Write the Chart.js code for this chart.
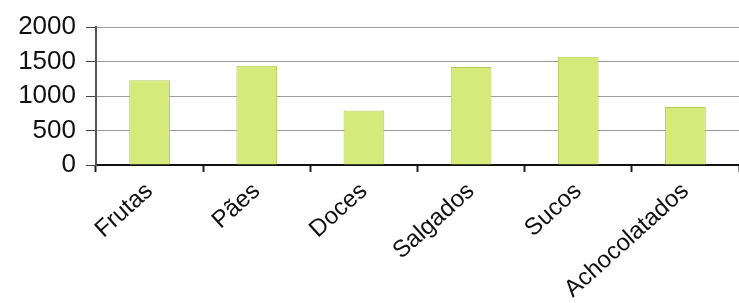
<!DOCTYPE html>
<html>
<head>
<meta charset="utf-8">
<script src="https://cdn.jsdelivr.net/npm/chart.js@4"></script>
<style>
  html, body { margin: 0; padding: 0; background: #fff; }
  #chart { display: block; }
</style>
</head>
<body>
<canvas id="chart" width="739" height="303"></canvas>
<script>
// ---------- DATA ----------
const categories = ['Frutas', 'Pães', 'Doces', 'Salgados', 'Sucos', 'Achocolatados'];
const values = [1230, 1440, 790, 1420, 1570, 840];
const yTicks = [0, 500, 1000, 1500, 2000];

// ---------- CHART ----------
const ctx = document.getElementById('chart').getContext('2d');
new Chart(ctx, {
  type: 'bar',
  data: {
    labels: categories,
    datasets: [{
      data: values,
      backgroundColor: '#d6ea7c',
      borderColor: '#b5c958',
      borderWidth: 1,
      barPercentage: 0.38,
      categoryPercentage: 1
    }]
  },
  options: {
    responsive: false,
    animation: false,
    layout: { padding: { top: 27, right: 0, left: 0, bottom: 0 } },
    plugins: { legend: { display: false }, tooltip: { enabled: false } },
    scales: {
      x: {
        offset: true,
        afterFit: (s) => { s.height = 138; },
        grid: { offset: true, drawOnChartArea: false, tickLength: 7, tickColor: '#222', tickWidth: 2 },
        border: { color: '#111', width: 2 },
        ticks: {
          autoSkip: false,
          minRotation: 42, maxRotation: 42,
          padding: 5,
          color: '#111',
          font: { family: 'Liberation Sans, Arial, sans-serif', size: 24 }
        }
      },
      y: {
        min: 0, max: 2000,
        afterFit: (s) => { s.width = 96; },
        afterBuildTicks: (s) => { s.ticks = yTicks.map(v => ({ value: v })); },
        grid: { color: '#9c9c9c', lineWidth: 1, tickLength: 10, tickColor: '#444' },
        border: { color: '#555', width: 2 },
        ticks: {
          autoSkip: false,
          padding: 10,
          color: '#111',
          callback: (v) => String(v),
          font: { family: 'Liberation Sans, Arial, sans-serif', size: 26 }
        }
      }
    }
  }
});
</script>
</body>
</html>
